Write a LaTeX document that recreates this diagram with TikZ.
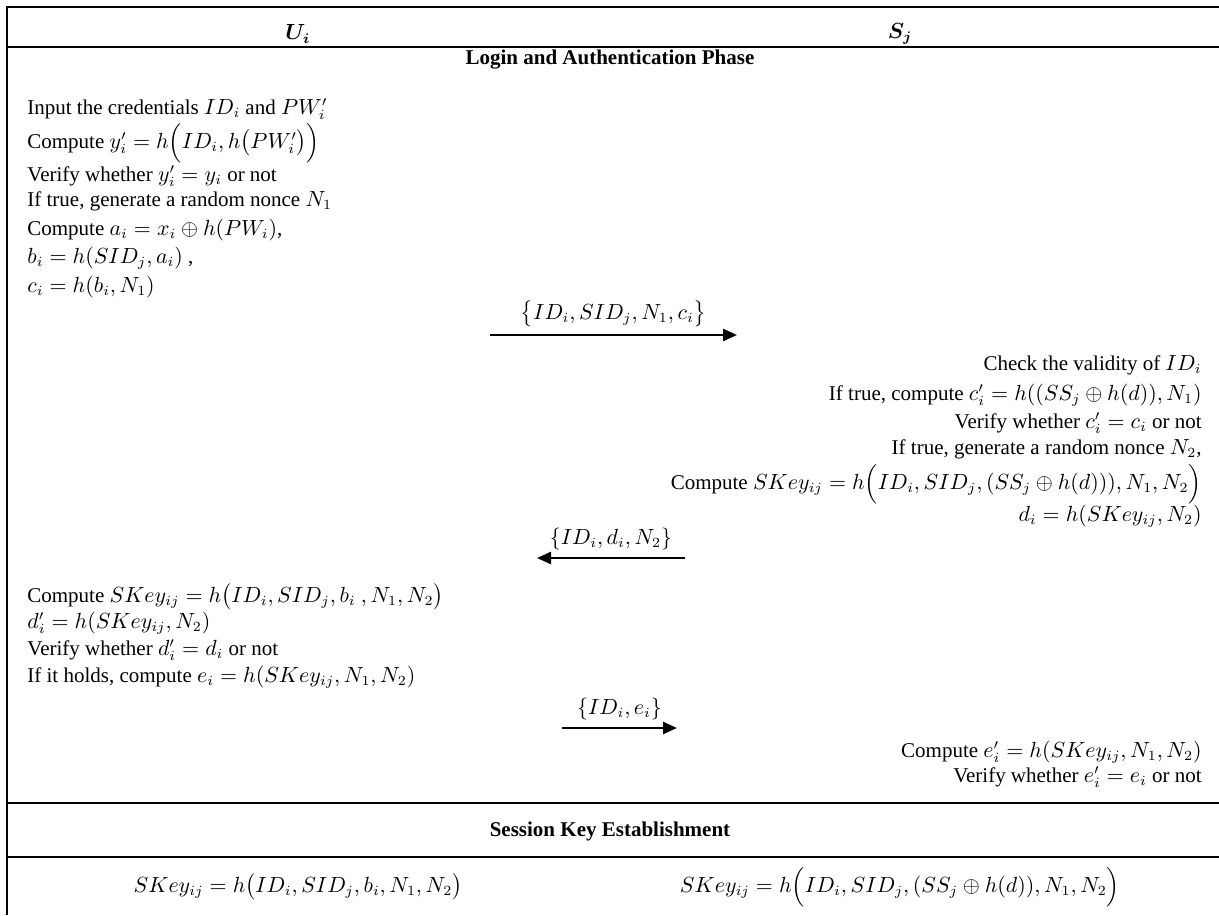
\documentclass[tikz,border=0pt]{standalone}
\usepackage{amsmath}
\usepackage{fontspec}
\setmainfont{Liberation Serif}
\usetikzlibrary{arrows.meta}
\tikzset{
  every node/.style={font=\fontsize{10.5}{12.5}\selectfont},
  ltext/.style={anchor=west, inner sep=0pt},
  rtext/.style={anchor=east, inner sep=0pt},
  rule/.style={line width=1pt},
  msg/.style={line width=1.2pt, -{Triangle[length=7pt,width=6pt]}}
}
\begin{document}
\begin{tikzpicture}[x=0.5pt, y=-0.5pt]
  \useasboundingbox (0,0) rectangle (1219,915);
  % table rules
  \draw [rule] (7,915) -- (7,7) -- (1219,7);
  \draw [rule] (7,47) -- (1219,47);
  \draw [rule] (7,803) -- (1219,803);
  \draw [rule] (7,857) -- (1219,857);
  % header
  \node (ui) at (298,34) {$\boldsymbol{U_i}$};
  \node (sj) at (900,34) {$\boldsymbol{S_j}$};
  \node (login) at (610,60) {\textbf{Login and Authentication Phase}};
  % user side, first part
  \node [ltext] (u1) at (27,109) {Input the credentials $ID_i$ and $PW_i'$};
  \node [ltext] (u2) at (27,143) {Compute $y_i' = h\Big(ID_i, h\big(PW_i'\big)\Big)$};
  \node [ltext] (u3) at (27,176) {Verify whether $y_i' = y_i$ or not};
  \node [ltext] (u4) at (27,201) {If true, generate a random nonce $N_1$};
  \node [ltext] (u5) at (27,230) {Compute $a_i = x_i \oplus h(PW_i)$,};
  \node [ltext] (u6) at (27,258) {$b_i = h(SID_j, a_i)$ ,};
  \node [ltext] (u7) at (27,287) {$c_i = h(b_i, N_1)$};
  % first message
  \coordinate (m1s) at (490,335);
  \coordinate (m1e) at (737,335);
  \draw [msg] (m1s) -- (m1e) node [midway, above] (msg1) {$\big\{ID_i, SID_j, N_1, c_i\big\}$};
  % server side
  \node [rtext] (s1) at (1202,365) {Check the validity of $ID_i$};
  \node [rtext] (s2) at (1202,395) {If true, compute $c_i' = h((SS_j \oplus h(d)), N_1)$};
  \node [rtext] (s3) at (1202,423) {Verify whether $c_i' = c_i$ or not};
  \node [rtext] (s4) at (1202,449) {If true, generate a random nonce $N_2$,};
  \node [rtext] (s5) at (1202,484) {Compute $SKey_{ij} = h\Big(ID_i, SID_j, (SS_j \oplus h(d))), N_1, N_2\Big)$};
  \node [rtext] (s6) at (1202,516) {$d_i = h(SKey_{ij}, N_2)$};
  % second message
  \coordinate (m2s) at (685,558);
  \coordinate (m2e) at (537,558);
  \draw [msg] (m2s) -- (m2e) node [midway, above] (msg2) {$\{ID_i, d_i, N_2\}$};
  % user side, second part
  \node [ltext] (u8) at (27,597) {Compute $SKey_{ij} = h\big(ID_i, SID_j, b_i\ , N_1, N_2\big)$};
  \node [ltext] (u9) at (27,623) {$d_i' = h(SKey_{ij}, N_2)$};
  \node [ltext] (u10) at (27,650) {Verify whether $d_i' = d_i$ or not};
  \node [ltext] (u11) at (27,677) {If it holds, compute $e_i = h(SKey_{ij}, N_1, N_2)$};
  % third message
  \coordinate (m3s) at (562,728);
  \coordinate (m3e) at (677,728);
  \draw [msg] (m3s) -- (m3e) node [midway, above] (msg3) {$\{ID_i, e_i\}$};
  \node [rtext] (s7) at (1202,752) {Compute $e_i' = h(SKey_{ij}, N_1, N_2)$};
  \node [rtext] (s8) at (1202,777) {Verify whether $e_i' = e_i$ or not};
  % session key
  \node (skey) at (610,831) {\textbf{Session Key Establishment}};
  \node (ukey) at (298,887) {$SKey_{ij} = h\big(ID_i, SID_j, b_i, N_1, N_2\big)$};
  \node (skey2) at (900,887) {$SKey_{ij} = h\Big(ID_i, SID_j, (SS_j \oplus h(d)), N_1, N_2\Big)$};
\end{tikzpicture}
\end{document}
